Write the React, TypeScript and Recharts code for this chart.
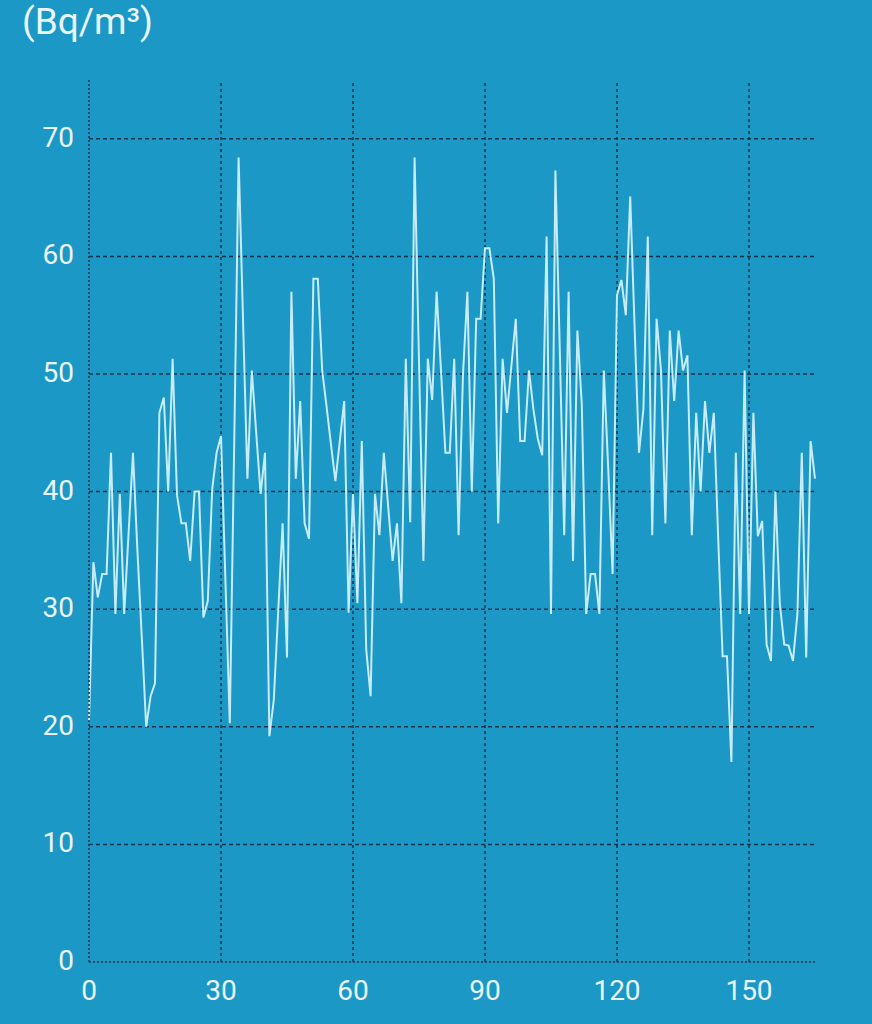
import { LineChart, Line, XAxis, YAxis, ReferenceLine } from 'recharts'

// radon concentration, one reading per day (Bq/m³)
const radon = [
  20.5, 34, 31, 33, 33, 43.3, 29.6, 39.8, 29.6, 36.5,
  43.3, 35, 27.6, 20, 22.6, 23.7, 46.7, 48, 40, 51.3,
  39.7, 37.3, 37.3, 34.1, 40, 40, 29.3, 30.7, 40.2, 43.3,
  44.7, 32.5, 20.3, 44, 68.4, 54.7, 41.1, 50.3, 45, 39.8,
  43.3, 19.2, 22.3, 29.8, 37.3, 25.9, 57, 41.1, 47.7, 37.3,
  36, 58.1, 58.1, 50.3, 47.2, 44, 40.9, 44.3, 47.7, 29.7,
  39.8, 30.5, 44.3, 26.6, 22.6, 39.8, 36.3, 43.3, 38.7, 34.1,
  37.3, 30.5, 51.3, 37.4, 68.4, 51, 34.1, 51.3, 47.8, 57,
  50.3, 43.3, 43.3, 51.3, 36.3, 50, 57, 40, 54.7, 54.7,
  60.7, 60.7, 58.1, 37.3, 51.3, 46.7, 50.7, 54.7, 44.3, 44.3,
  50.3, 47, 44.5, 43.1, 61.7, 29.6, 67.3, 52, 36.3, 57,
  34.1, 53.7, 47.4, 29.6, 33, 33, 29.6, 50.3, 42, 33,
  56.7, 58, 55, 65.1, 54, 43.3, 47, 61.7, 36.3, 54.7,
  50.3, 37.3, 53.7, 47.7, 53.7, 50.3, 51.6, 36.3, 46.7, 40,
  47.7, 43.3, 46.7, 36, 26, 26, 17, 43.3, 29.6, 50.3,
  29.6, 46.7, 36.2, 37.5, 27, 25.6, 40, 30.5, 27, 26.9,
  25.6, 29.6, 43.3, 25.9, 44.3, 41.1,
]

const xTicks = [0, 30, 60, 90, 120, 150]
const yTicks = [0, 10, 20, 30, 40, 50, 60, 70]

const BG = '#1b98c6'
const GRID = '#17334a'
const LABEL = '#e9f5fa'

const data = radon.map((v, i) => ({ day: i, value: v }))

export default function App() {
  return (
    <div style={{ position: 'absolute', left: 0, top: 0, width: 872, height: 1024, background: BG, fontFamily: 'Roboto, sans-serif' }}>
      <div style={{ position: 'absolute', left: 22, top: 0, fontSize: 37, color: LABEL }}>(Bq/m³)</div>
      <LineChart width={872} height={1024} data={data} margin={{ top: 80, right: 57, bottom: 12, left: 0 }}>
        {yTicks.slice(1).map((t) => (
          <ReferenceLine key={'h' + t} y={t} stroke={GRID} strokeWidth={1.5} strokeDasharray="4 3" />
        ))}
        {xTicks.slice(1).map((t) => (
          <ReferenceLine key={'v' + t} x={t} stroke={GRID} strokeWidth={1.5} strokeDasharray="3 3" />
        ))}
        <XAxis
          dataKey="day"
          type="number"
          domain={[0, 165]}
          ticks={xTicks}
          height={50}
          tickSize={0}
          tickMargin={18}
          axisLine={{ stroke: GRID, strokeWidth: 1.5, strokeDasharray: '2 2' }}
          tick={{ fill: LABEL, fontSize: 28 }}
        />
        <YAxis
          type="number"
          domain={[0, 75]}
          ticks={yTicks}
          width={89}
          tickSize={0}
          tickMargin={15}
          axisLine={{ stroke: GRID, strokeWidth: 1.5, strokeDasharray: '2 2' }}
          tick={{ fill: LABEL, fontSize: 28, dy: -2 }}
        />
        <Line type="linear" dataKey="value" stroke="#c8ecf7" strokeWidth={2} dot={false} isAnimationActive={false} />
      </LineChart>
    </div>
  )
}
